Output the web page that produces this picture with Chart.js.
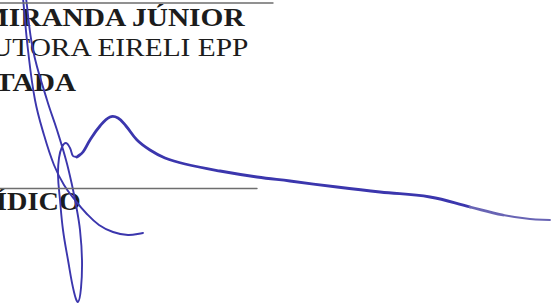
<!DOCTYPE html>
<html lang="pt">
<head>
<meta charset="UTF-8">
<title>Assinatura</title>
<script src="https://cdn.jsdelivr.net/npm/chart.js"></script>
<style>
    body { margin: 0; background: #fff; }
    .page {
        position: relative;
        width: 554px;
        height: 308px;
        overflow: hidden;
        background: #fff;
    }
    .txt {
        position: absolute;
        font-family: "Liberation Serif", "Times New Roman", serif;
        font-size: 26px;
        line-height: 26px;
        color: #1c1c1c;
        white-space: nowrap;
        transform-origin: 0 0;
        transform: scaleX(1.13);
    }
    .b { font-weight: bold; }
    #sig {
        position: absolute;
        left: 0;
        top: 0;
    }
</style>
</head>
<body>
<div class="page">
    <div class="txt b" style="left:-19px; top:5px;">MIRANDA JÚNIOR</div>
    <div class="txt" style="left:-9px; top:35px;">UTORA EIRELI EPP</div>
    <div class="txt b" style="left:-5px; top:70px;">TADA</div>
    <div class="txt b" style="left:-4px; top:189px; font-size:25px;">ÍDICO</div>
    <canvas id="sig" width="554" height="308"></canvas>
</div>

<script>
    // linhas horizontais do formulário (x, y)
    const ruleTopX = [0, 273];
    const ruleTopY = [3, 3];
    const ruleBottomX = [0, 257];
    const ruleBottomY = [188.5, 188.5];

    // traço 1: lado esquerdo do laço superior até a curva final
    const strokeAX = [23, 28, 35, 44, 54, 64, 75, 86, 99, 113, 128, 143];
    const strokeAY = [-2, 50, 100, 135, 165, 185, 200, 213, 225, 232, 235, 233];

    // traço 2: laço superior, ponta de baixo e subida até o gancho
    const strokeBX = [26, 33, 47, 57, 66, 72, 76, 80, 82, 81, 78, 74, 68, 63, 60, 58, 59, 62, 66, 70, 73, 77];
    const strokeBY = [-2, 50, 100, 130, 160, 185, 205, 230, 260, 288, 302, 292, 260, 230, 200, 175, 158, 147, 143, 148, 156, 157];

    // traço 3: onda e cauda longa para a direita
    const strokeCX = [77, 83, 90, 100, 110, 118, 126, 137, 150, 165, 185, 220, 257, 290, 337, 380, 430, 470, 503, 530, 550];
    const strokeCY = [157, 152, 140, 126, 117, 118, 126, 140, 150, 158, 164, 171, 177, 181, 187, 192, 197, 207, 215, 219, 220];

    const ink = '#3b36ad';

    function pts(xs, ys) {
        return xs.map((x, i) => ({ x: x, y: ys[i] }));
    }

    function line(xs, ys, color, width, tension) {
        return {
            data: pts(xs, ys),
            showLine: true,
            borderColor: color,
            borderWidth: width,
            pointRadius: 0,
            tension: tension,
            borderCapStyle: 'round',
            borderJoinStyle: 'round',
            clip: false
        };
    }

    const tail = line(strokeCX, strokeCY, ink, 2.8, 0.4);
    tail.segment = {
        borderColor: c => c.p0.parsed.x >= 470 ? '#6864b4' : undefined,
        borderWidth: c => c.p0.parsed.x >= 503 ? 1.8 : undefined
    };

    const ctx = document.getElementById('sig').getContext('2d');
    const sigChart = new Chart(ctx, {
        type: 'scatter',
        data: {
            datasets: [
                line(ruleTopX, ruleTopY, '#6e6e6e', 1.4, 0),
                line(ruleBottomX, ruleBottomY, '#6e6e6e', 1.4, 0),
                line(strokeAX, strokeAY, ink, 1.9, 0.4),
                line(strokeBX, strokeBY, ink, 1.9, 0.4),
                tail
            ]
        },
        options: {
            responsive: false,
            animation: false,
            layout: { padding: 0 },
            plugins: {
                legend: { display: false },
                tooltip: { enabled: false }
            },
            scales: {
                x: { type: 'linear', min: 0, max: 554, display: false },
                y: { type: 'linear', min: 0, max: 308, reverse: true, display: false }
            }
        }
    });
</script>
</body>
</html>
